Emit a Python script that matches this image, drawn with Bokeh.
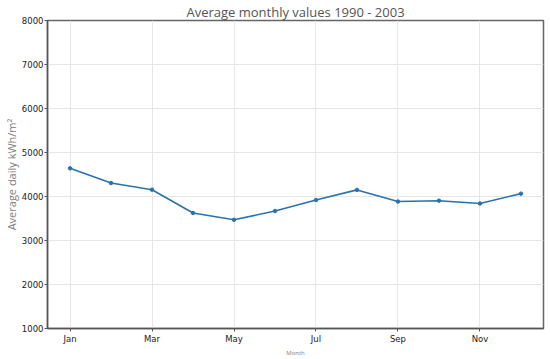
from bokeh.plotting import figure
from bokeh.models import FixedTicker, Range1d
from bokeh.embed import file_html
from bokeh.resources import INLINE

months = [1, 2, 3, 4, 5, 6, 7, 8, 9, 10, 11, 12]
values = [4640, 4305, 4155, 3625, 3470, 3670, 3920, 4150, 3885, 3905, 3840, 4065]
tick_months = [1, 3, 5, 7, 9, 11]
tick_labels = ["Jan", "Mar", "May", "Jul", "Sep", "Nov"]
y_ticks = [1000, 2000, 3000, 4000, 5000, 6000, 7000, 8000]

p = figure(frame_width=496, frame_height=308, output_backend="svg", toolbar_location=None,
           x_range=Range1d(0.45, 12.55), y_range=Range1d(1000, 8000),
           title="Average monthly values 1990 - 2003",
           min_border_left=0, min_border_right=2, min_border_top=0, min_border_bottom=0)

p.title.align = "center"
p.title.text_font = "Open Sans"
p.title.text_font_size = "13px"
p.title.text_font_style = "normal"
p.title.text_color = "#555555"
p.title.standoff = 0
p.title.offset = 0

p.line(months, values, line_color="#2a72ad", line_width=1.6)
p.scatter(months, values, size=3.5, fill_color="#2a72ad", line_color="#2a72ad")

p.xaxis.ticker = FixedTicker(ticks=tick_months)
p.xaxis.major_label_overrides = {m: l for m, l in zip(tick_months, tick_labels)}
p.yaxis.ticker = FixedTicker(ticks=y_ticks)

for ax in (p.xaxis, p.yaxis):
    ax.axis_line_color = "#555555"
    ax.axis_line_width = 1.5
    ax.major_tick_line_color = "#555555"
    ax.major_tick_in = 0
    ax.major_tick_out = 3
    ax.minor_tick_line_color = None
    ax.major_label_text_font = "DejaVu Sans"
    ax.major_label_text_font_size = "8.5px"
    ax.major_label_text_color = "#222222"
    ax.axis_label_text_font = "Open Sans"
    ax.axis_label_text_font_style = "normal"
    ax.axis_label_text_color = "#808080"

p.xaxis.major_label_standoff = 2
p.yaxis.major_label_standoff = 1
p.xaxis.axis_label = "Month"
p.xaxis.axis_label_text_font_size = "6px"
p.xaxis.axis_label_standoff = 2
p.yaxis.axis_label = "Average daily kWh/m²"
p.yaxis.axis_label_text_font_size = "11px"
p.yaxis.axis_label_standoff = 0

p.outline_line_color = "#666666"
p.outline_line_width = 1.5
p.xgrid.grid_line_color = "#e6e6e6"
p.ygrid.grid_line_color = "#e6e6e6"
p.xgrid.grid_line_width = 1
p.ygrid.grid_line_width = 1

open("out.html", "w").write(file_html(p, INLINE))
